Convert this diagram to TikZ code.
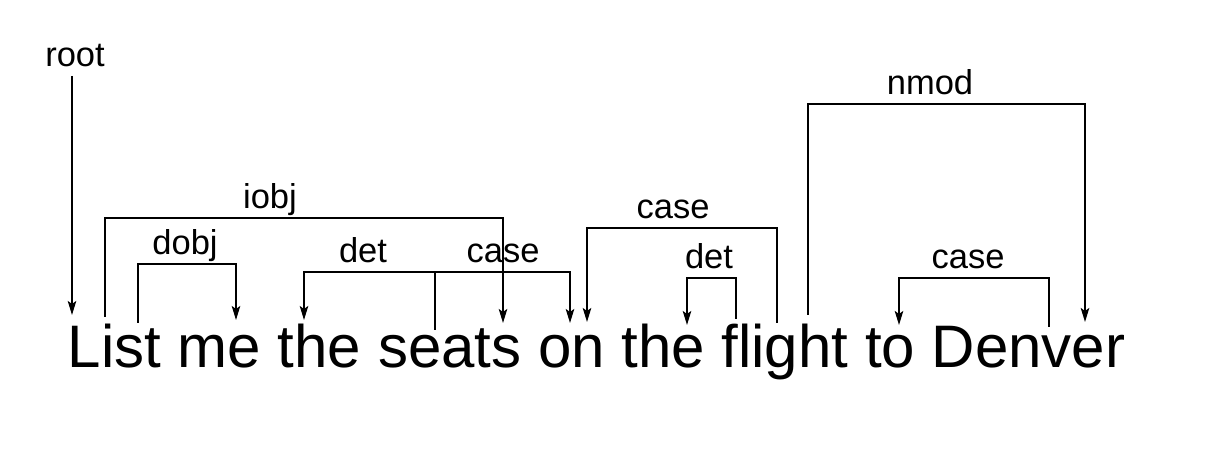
\documentclass[tikz,border=0pt]{standalone}
\usepackage{fontspec}
\setmainfont{Liberation Sans}
\usetikzlibrary{arrows.meta}
\tikzset{
  word/.style={anchor=base west,inner sep=0pt,font=\fontsize{60bp}{72bp}\selectfont},
  rel/.style={anchor=south,inner xsep=0pt,inner ysep=9bp,text depth=0pt,font=\fontsize{34.5bp}{40bp}\selectfont},
}
\begin{document}
\begin{tikzpicture}[>={Stealth[length=14bp,width=8.5bp,inset=3bp]},line width=1.8bp,line join=miter,]
\useasboundingbox (0bp,0bp) rectangle (1216bp,462bp);
%%
\node (w_list) at (67.0bp,94.0bp) [word] {List};
  \node (w_me) at (177.0bp,94.0bp) [word] {me};
  \node (w_the) at (277.0bp,94.0bp) [word] {the};
  \node (w_seats) at (377.1bp,94.0bp) [word] {seats};
  \node (w_on) at (537.2bp,94.0bp) [word] {on};
  \node (w_the2) at (620.6bp,94.0bp) [word] {the};
  \node (w_flight) at (720.7bp,94.0bp) [word] {flight};
  \node (w_to) at (864.1bp,94.0bp) [word] {to};
  \node (w_denver) at (930.8bp,94.0bp) [word] {Denver};
%
\coordinate (root_to) at (72.0bp,147.0bp);
  \coordinate (iobj_from) at (105.0bp,145.0bp);
  \coordinate (iobj_to) at (503.0bp,139.0bp);
  \coordinate (dobj_from) at (138.0bp,139.0bp);
  \coordinate (dobj_to) at (236.0bp,142.0bp);
  \coordinate (seats_from) at (435.0bp,132.0bp);
  \coordinate (det_to) at (304.0bp,142.0bp);
  \coordinate (case_to) at (570.0bp,139.0bp);
  \coordinate (case2_from) at (777.0bp,139.0bp);
  \coordinate (case2_to) at (587.0bp,140.0bp);
  \coordinate (det2_from) at (736.0bp,143.0bp);
  \coordinate (det2_to) at (687.0bp,137.0bp);
  \coordinate (nmod_from) at (808.0bp,147.0bp);
  \coordinate (nmod_to) at (1085.0bp,140.0bp);
  \coordinate (case3_from) at (1049.0bp,135.0bp);
  \coordinate (case3_to) at (899.0bp,137.0bp);
%
\node (l_root) at (75.0bp,386.0bp) [rel] {root};
  \node (l_iobj) at (270.0bp,244.0bp) [rel] {iobj};
  \node (l_dobj) at (185.0bp,198.0bp) [rel] {dobj};
  \node (l_det) at (363.0bp,190.0bp) [rel] {det};
  \node (l_case) at (503.0bp,190.0bp) [rel] {case};
  \node (l_case2) at (673.0bp,234.0bp) [rel] {case};
  \node (l_det2) at (709.0bp,184.0bp) [rel] {det};
  \node (l_nmod) at (930.0bp,358.0bp) [rel] {nmod};
  \node (l_case3) at (968.0bp,184.0bp) [rel] {case};
%
\draw [black,->] (l_root.south -| root_to) -- (root_to);
  \draw [black,->] (iobj_from) |- (l_iobj.south) -| (iobj_to);
  \draw [black,->] (dobj_from) |- (l_dobj.south) -| (dobj_to);
  \draw [black,->] (seats_from) |- (l_det.south) -| (det_to);
  \draw [black,->] (seats_from) |- (l_case.south) -| (case_to);
  \draw [black,->] (case2_from) |- (l_case2.south) -| (case2_to);
  \draw [black,->] (det2_from) |- (l_det2.south) -| (det2_to);
  \draw [black,->] (nmod_from) |- (l_nmod.south) -| (nmod_to);
  \draw [black,->] (case3_from) |- (l_case3.south) -| (case3_to);
%
\end{tikzpicture}
\end{document}
